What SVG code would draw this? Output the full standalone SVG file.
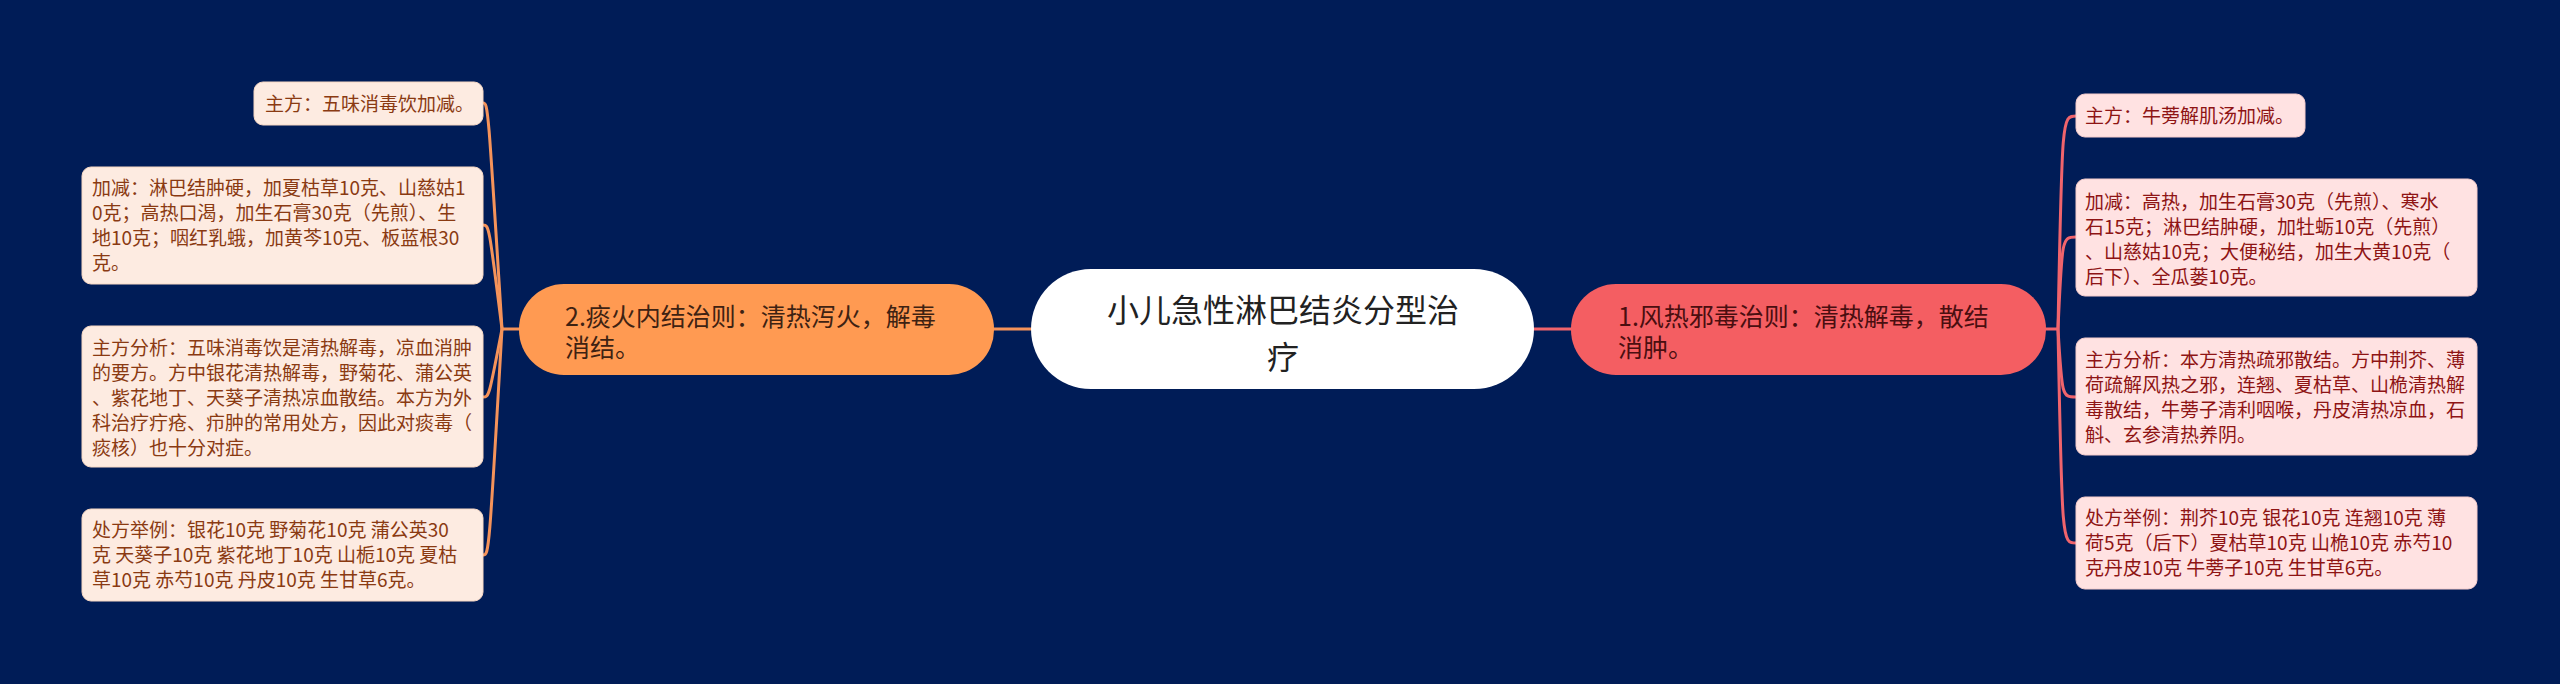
<svg xmlns="http://www.w3.org/2000/svg" width="2560" height="684" viewBox="0 0 2560 684">
<style>
text{font-family:"Noto Sans CJK SC","Noto Sans",sans-serif;}
.lb{fill:#FDEBE1;stroke:#f7d8c4;stroke-width:1;}
.rb{fill:#FFE2E2;stroke:#f5cccc;stroke-width:1;}
.lt{font-size:19px;fill:#8A3A12;}
.rt{font-size:19px;fill:#8E1414;}
.lc{fill:none;stroke:#F5935A;stroke-width:3;}
.rc{fill:none;stroke:#F0646C;stroke-width:3;}
</style>
<rect width="2560" height="684" fill="#001C57"/>
<g id="connectors">
<path class="lc" d="M993 329 L1032 329"/>
<path class="rc" d="M1533 329 L1572 329"/>
<path class="lc" d="M521 329 L502 329"/>
<path class="lc" d="M502 329 C488 103 488 103 483 103"/>
<path class="lc" d="M502 329 C489 225 489 225 483 225"/>
<path class="lc" d="M502 329 C489 397 489 397 483 397"/>
<path class="lc" d="M502 329 C489 555 489 555 483 555"/>
<path class="rc" d="M2043 329 L2058 329"/>
<path class="rc" d="M2058 329 C2062 116 2062 116 2076 116"/>
<path class="rc" d="M2058 329 C2062 237 2062 237 2076 237"/>
<path class="rc" d="M2058 329 C2062 397 2062 397 2076 397"/>
<path class="rc" d="M2058 329 C2062 543 2062 543 2076 543"/>
</g>
<g id="center">
<rect x="1031" y="269" width="503" height="120" rx="60" fill="#FFFFFF"/>
<text font-size="32" fill="#222222" text-anchor="middle"><tspan x="1283" y="322">小儿急性淋巴结炎分型治</tspan><tspan x="1283" y="369">疗</tspan></text>
</g>
<g id="branch-left">
<rect x="519" y="284" width="475" height="91" rx="45" fill="#FF9A52"/>
<text font-size="25" fill="#3E2212"><tspan x="565" y="326">2.痰火内结治则：清热泻火，解毒</tspan><tspan x="565" y="357">消结。</tspan></text>
</g>
<g id="branch-right">
<rect x="1571" y="284" width="475" height="91" rx="45" fill="#F45E62"/>
<text font-size="25" fill="#4A0E10"><tspan x="1618" y="326">1.风热邪毒治则：清热解毒，散结</tspan><tspan x="1618" y="357">消肿。</tspan></text>
</g>
<g id="l1">
<rect class="lb" x="254" y="82" width="229" height="43" rx="9"/>
<text class="lt" x="265" y="111">主方：五味消毒饮加减。</text>
</g>
<g id="l2">
<rect class="lb" x="82" y="167" width="401" height="117" rx="9"/>
<text class="lt" x="92" y="195">加减：淋巴结肿硬，加夏枯草10克、山慈姑1</text>
<text class="lt" x="92" y="220">0克；高热口渴，加生石膏30克（先煎）、生</text>
<text class="lt" x="92" y="245">地10克；咽红乳蛾，加黄芩10克、板蓝根30</text>
<text class="lt" x="92" y="270">克。</text>
</g>
<g id="l3">
<rect class="lb" x="82" y="326" width="401" height="141" rx="9"/>
<text class="lt" x="92" y="355">主方分析：五味消毒饮是清热解毒，凉血消肿</text>
<text class="lt" x="92" y="380">的要方。方中银花清热解毒，野菊花、蒲公英</text>
<text class="lt" x="92" y="405">、紫花地丁、天葵子清热凉血散结。本方为外</text>
<text class="lt" x="92" y="430">科治疗疔疮、疖肿的常用处方，因此对痰毒（</text>
<text class="lt" x="92" y="455">痰核）也十分对症。</text>
</g>
<g id="l4">
<rect class="lb" x="82" y="509" width="401" height="92" rx="9"/>
<text class="lt" x="92" y="537">处方举例：银花10克 野菊花10克 蒲公英30</text>
<text class="lt" x="92" y="562">克 天葵子10克 紫花地丁10克 山栀10克 夏枯</text>
<text class="lt" x="92" y="587">草10克 赤芍10克 丹皮10克 生甘草6克。</text>
</g>
<g id="r1">
<rect class="rb" x="2076" y="94" width="229" height="43" rx="9"/>
<text class="rt" x="2085" y="123">主方：牛蒡解肌汤加减。</text>
</g>
<g id="r2">
<rect class="rb" x="2076" y="179" width="401" height="117" rx="9"/>
<text class="rt" x="2085" y="209">加减：高热，加生石膏30克（先煎）、寒水</text>
<text class="rt" x="2085" y="234">石15克；淋巴结肿硬，加牡蛎10克（先煎）</text>
<text class="rt" x="2085" y="259">、山慈姑10克；大便秘结，加生大黄10克（</text>
<text class="rt" x="2085" y="284">后下）、全瓜蒌10克。</text>
</g>
<g id="r3">
<rect class="rb" x="2076" y="338" width="401" height="117" rx="9"/>
<text class="rt" x="2085" y="367">主方分析：本方清热疏邪散结。方中荆芥、薄</text>
<text class="rt" x="2085" y="392">荷疏解风热之邪，连翘、夏枯草、山桅清热解</text>
<text class="rt" x="2085" y="417">毒散结，牛蒡子清利咽喉，丹皮清热凉血，石</text>
<text class="rt" x="2085" y="442">斛、玄参清热养阴。</text>
</g>
<g id="r4">
<rect class="rb" x="2076" y="497" width="401" height="92" rx="9"/>
<text class="rt" x="2085" y="525">处方举例：荆芥10克 银花10克 连翘10克 薄</text>
<text class="rt" x="2085" y="550">荷5克（后下）夏枯草10克 山桅10克 赤芍10</text>
<text class="rt" x="2085" y="575">克丹皮10克 牛蒡子10克 生甘草6克。</text>
</g>
</svg>
